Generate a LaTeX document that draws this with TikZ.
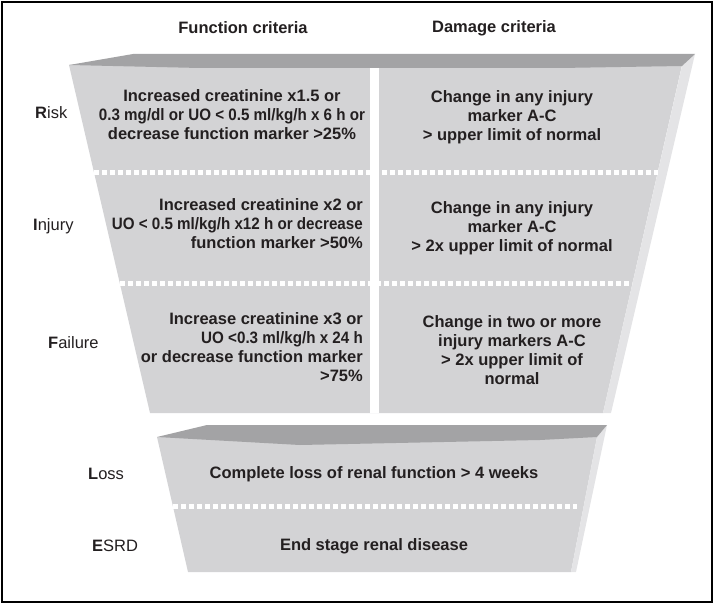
\documentclass[tikz,border=0pt]{standalone}
\usepackage{fontspec}
\setmainfont{Liberation Sans}
\newfontfamily\condfont[FakeStretch=0.92]{Liberation Sans}
\usepackage{tikz}
\definecolor{bodygrey}{RGB}{211,211,213}
\definecolor{topgrey}{RGB}{163,163,165}
\definecolor{sidegrey}{RGB}{228,228,230}
\definecolor{inkgrey}{RGB}{35,31,32}
\tikzset{
  crittext/.style={font=\fontsize{16.5}{19}\selectfont\bfseries,text=inkgrey,
    inner sep=0pt},
  headlabel/.style={font=\fontsize{16.5}{19}\selectfont\bfseries,text=inkgrey,
    inner sep=0pt},
  rowlabel/.style={font=\fontsize{16.5}{19}\selectfont,text=inkgrey,
    anchor=west,inner sep=0pt},
  gapline/.style={draw=white,line width=5pt,dash pattern=on 5pt off 3pt},
  divider/.style={draw=white,line width=9pt}
}

\begin{document}
\begin{tikzpicture}[x=1pt,y=-1pt]
  \useasboundingbox (0,0) rectangle (714,604);
  \draw[line width=2.5pt] (2,2) rectangle (712,602);
  % upper funnel: body, side, top
  \fill[bodygrey] (69,65) -- (682,65) -- (603,413) -- (150,413) -- cycle;
  \fill[sidegrey] (695,54) -- (682,66) -- (603,413) -- (611,413) -- cycle;
  \fill[topgrey] (69,65) -- (133,54) -- (695,54) -- (682,66) -- (560,68)
    -- (200,68) -- cycle;
  % lower funnel
  \fill[bodygrey] (157,437) -- (597,437) -- (571,572) -- (188,572) -- cycle;
  \fill[sidegrey] (607,425) -- (597,437) -- (571,572) -- (576,572) -- cycle;
  \fill[topgrey] (157,437) -- (207,425) -- (607,425) -- (597,437) -- (540,440)
    -- (300,445) -- cycle;
  \foreach \xa/\xb/\y in {94/658/173, 120/632/283, 173/577/506}
    \draw[gapline] (\xa,\y) -- (\xb,\y);
  \draw[divider] (374.5,68) -- (374.5,413);

  \node[headlabel] (fhead) at (243,28) {Function criteria};
  \node[headlabel] (dhead) at (494,28) {Damage criteria};

  \foreach \nm/\x/\y/\txt in {risk/35/113/{\textbf{R}isk},
                              injury/33/226/{\textbf{I}njury},
                              failure/48/343/{\textbf{F}ailure},
                              loss/88/474/{\textbf{L}oss},
                              esrd/92/546/{\textbf{E}SRD}}
    \node[rowlabel] (\nm) at (\x,\y) {\txt};

  \node[crittext,align=center] (rfun) at (232,115)
    {Increased creatinine x1.5 or\\
     {\condfont 0.3 mg/dl or \textbf{UO} < 0.5 ml/kg/h x 6 h or}\\
     decrease function marker >25\%};
  \node[crittext,align=right,anchor=east] (ifun) at (363,224)
    {Increased creatinine x2 or\\
     {\condfont UO < 0.5 ml/kg/h x12 h or decrease}\\
     function marker >50\%};
  \node[crittext,align=right,anchor=east] (ffun) at (363,347)
    {Increase creatinine x3 or\\{\condfont\textbf{UO} <0.3 ml/kg/h x 24 h}\\
     or decrease function marker\\>75\%};
  \node[crittext,align=center] (rdam) at (512,117)
    {Change in any injury\\marker \textbf{A-C}\\> upper limit of normal};
  \node[crittext,align=center] (idam) at (512,228)
    {Change in any injury\\marker \textbf{A-C}\\> 2x upper limit of normal};
  \node[crittext,align=center] (fdam) at (512,350)
    {Change in two or more\\injury markers \textbf{A-C}\\> 2x upper limit of\\normal};
  \node[crittext] (lfun) at (374,474) {Complete loss of renal function > 4 weeks};
  \node[crittext] (efun) at (374,546) {End stage renal disease};
\end{tikzpicture}
\end{document}
